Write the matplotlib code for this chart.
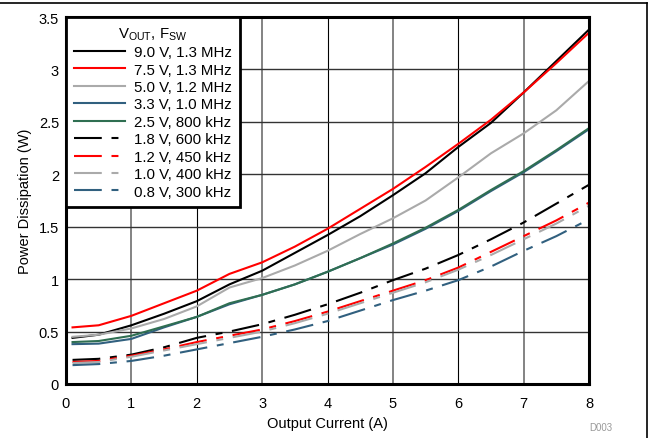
import matplotlib
matplotlib.use("Agg")
import matplotlib.pyplot as plt
from matplotlib.lines import Line2D

plt.rcParams['font.family'] = ['Liberation Sans', 'DejaVu Sans']
plt.rcParams['mathtext.fontset'] = 'custom'
plt.rcParams['mathtext.rm'] = 'Liberation Sans'
plt.rcParams['mathtext.it'] = 'Liberation Sans'
plt.rcParams['lines.scale_dashes'] = False

current = [0.1, 0.5, 1, 1.5, 2, 2.5, 3, 3.5, 4, 4.5, 5, 5.5, 6, 6.5, 7, 7.5, 8]

labels = ["9.0 V, 1.3 MHz", "7.5 V, 1.3 MHz", "5.0 V, 1.2 MHz", "3.3 V, 1.0 MHz",
          "2.5 V, 800 kHz", "1.8 V, 600 kHz", "1.2 V, 450 kHz", "1.0 V, 400 kHz",
          "0.8 V, 300 kHz"]

p_9v0 = [0.44, 0.47, 0.56, 0.67, 0.79, 0.95, 1.08, 1.25, 1.42, 1.60, 1.80, 2.01, 2.26, 2.49, 2.78, 3.08, 3.38]
p_7v5 = [0.54, 0.56, 0.65, 0.77, 0.89, 1.05, 1.16, 1.31, 1.48, 1.67, 1.86, 2.07, 2.29, 2.52, 2.78, 3.06, 3.35]
p_5v0 = [0.45, 0.47, 0.53, 0.62, 0.74, 0.92, 1.01, 1.13, 1.27, 1.43, 1.58, 1.75, 1.97, 2.20, 2.39, 2.61, 2.89]
p_3v3 = [0.38, 0.385, 0.43, 0.54, 0.64, 0.76, 0.85, 0.95, 1.07, 1.20, 1.33, 1.48, 1.65, 1.84, 2.02, 2.22, 2.43]
p_2v5 = [0.40, 0.41, 0.46, 0.55, 0.64, 0.77, 0.85, 0.95, 1.07, 1.20, 1.34, 1.49, 1.66, 1.85, 2.03, 2.23, 2.44]
p_1v8 = [0.23, 0.24, 0.28, 0.35, 0.44, 0.50, 0.57, 0.66, 0.76, 0.87, 0.99, 1.10, 1.23, 1.38, 1.54, 1.72, 1.90]
p_1v2 = [0.21, 0.22, 0.27, 0.33, 0.40, 0.46, 0.52, 0.60, 0.69, 0.79, 0.89, 0.99, 1.11, 1.26, 1.41, 1.56, 1.73]
p_1v0 = [0.20, 0.21, 0.26, 0.32, 0.38, 0.44, 0.50, 0.58, 0.67, 0.77, 0.87, 0.97, 1.09, 1.23, 1.38, 1.53, 1.70]
p_0v8 = [0.18, 0.19, 0.22, 0.27, 0.33, 0.39, 0.45, 0.52, 0.60, 0.70, 0.80, 0.89, 0.99, 1.12, 1.27, 1.41, 1.57]

series = [p_9v0, p_7v5, p_5v0, p_3v3, p_2v5, p_1v8, p_1v2, p_1v0, p_0v8]
colors = ['#000000', '#ff0000', '#aaaaaa', '#31607f', '#2f6f52',
          '#000000', '#ff0000', '#aaaaaa', '#31607f']
dash = (0, (20, 7, 5, 7))
styles = ['-'] * 5 + [dash] * 4

xticks = [0, 1, 2, 3, 4, 5, 6, 7, 8]
xticklabels = ['0', '1', '2', '3', '4', '5', '6', '7', '8']
yticks = [0, 0.5, 1, 1.5, 2, 2.5, 3, 3.5]
yticklabels = ['0', '0.5', '1', '1.5', '2', '2.5', '3', '3.5']

fig = plt.figure(figsize=(6.49, 4.39), dpi=100)
ax = fig.add_axes([66/649, 1-385/439, (589-66)/649, (385-18)/439])

for s, c, ls, lab in zip(series, colors, styles, labels):
    ax.plot(current, s, color=c, linestyle=ls, linewidth=1.5, label=lab, zorder=3)

ax.set_xlim(0, 8)
ax.set_ylim(0, 3.5)
ax.set_xticks(xticks)
ax.set_xticklabels(xticklabels)
ax.set_yticks(yticks)
ax.set_yticklabels(yticklabels)
ax.tick_params(length=0, labelsize=10.5)
ax.tick_params(axis='x', pad=9)
ax.tick_params(axis='y', pad=5)

for xv in xticks[1:-1]:
    if xv % 2 == 1:
        ax.axvline(xv, color='#7a7a7a', linewidth=1.3, zorder=1)
    else:
        ax.axvline(xv, color='#000000', linewidth=0.8, zorder=1)
for yv in yticks[1:-1]:
    ax.axhline(yv, color='#333333', linewidth=1.0, zorder=1)

for sp in ax.spines.values():
    sp.set_linewidth(2.2)
    sp.set_color('black')
    sp.set_zorder(5)

ax.set_xlabel('Output Current (A)', fontsize=10.5, labelpad=4)
ax.set_ylabel('Power Dissipation (W)', fontsize=10.5, labelpad=5)

leg = ax.legend(loc='upper left', bbox_to_anchor=(0, 1), borderaxespad=0,
                fontsize=10.8, title=r'V$_{\mathrm{OUT}}$, F$_{\mathrm{SW}}$',
                title_fontsize=10.8, fancybox=False, framealpha=1,
                edgecolor='black', handlelength=3.4, handletextpad=0.55,
                labelspacing=0.23, borderpad=0.55)
leg.get_frame().set_linewidth(2.0)
leg.set_zorder(6)

fig.text(601/649, 1-428/439, 'D003', fontsize=7, color='#999999', ha='center', va='center')

fig.add_artist(Line2D([0, 647/649], [1-4/439, 1-4/439], transform=fig.transFigure, color='black', linewidth=1.2))
fig.add_artist(Line2D([647/649, 647/649], [1-4/439, 0], transform=fig.transFigure, color='black', linewidth=1.2))

fig.savefig('out.png', dpi=100)
